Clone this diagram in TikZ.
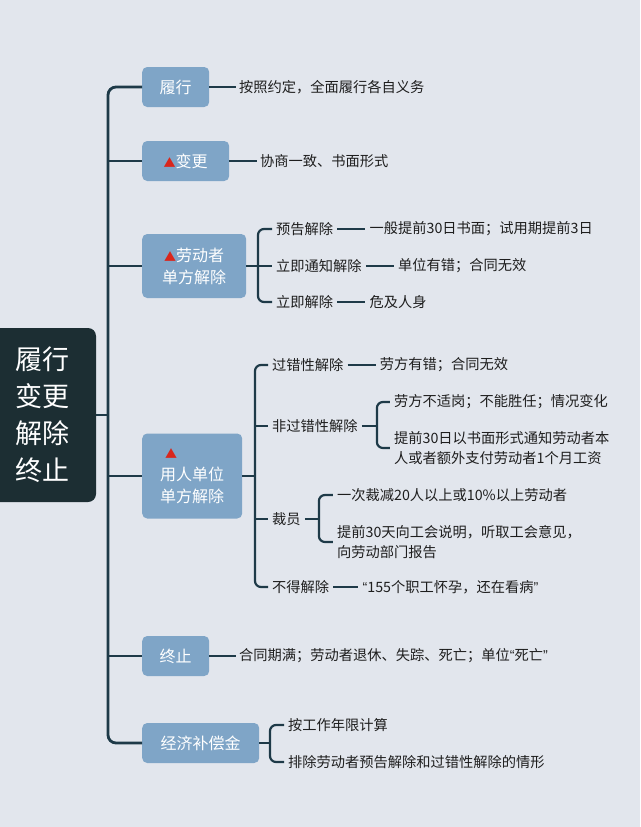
\documentclass[tikz,border=0pt]{standalone}
\usepackage{fontspec}
\setmainfont{Noto Sans CJK SC}
\newfontfamily\quotefont{Liberation Sans}
\usepackage{tikz}
\usetikzlibrary{calc}
\usetikzlibrary{positioning}
\definecolor{bgcol}{HTML}{E2E6ED}
\definecolor{rootcol}{HTML}{1C2E33}
\definecolor{linecol}{HTML}{1E3A48}
\definecolor{boxcol}{HTML}{7FA5C7}
\definecolor{txtcol}{HTML}{1E1E1E}
\definecolor{tricol}{HTML}{D9261C}
\newcommand{\tri}{{\color{tricol}\fontsize{12}{12}\selectfont▲}}
\newcommand{\oq}{{\quotefont “}}
\newcommand{\cq}{{\quotefont ”}}
\newcommand{\fork}[3]{ \draw[link] (#1.west) -| (#2) |- (#3.west);}
\tikzset{
  link/.style={draw=linecol, line width=2.2pt, rounded corners=6pt},
  tie/.style={draw=linecol, line width=1.7pt},
  trunk/.style={draw=linecol, line width=2.8pt, rounded corners=8pt},
  topic/.style={fill=boxcol, text=white, rounded corners=5pt, anchor=west, minimum height=40pt, inner sep=0pt, align=center, font=\fontsize{16}{22}\selectfont},
  leaf/.style={text=txtcol, anchor=west, inner xsep=4pt, inner ysep=2pt, align=left, font=\fontsize{14.25}{19.5}\selectfont}
}

\begin{document}
\begin{tikzpicture}[x=1pt,y=-1pt]
        \fill[bgcol] (0,0) rectangle (640,827);
        \useasboundingbox (0,0) rectangle (640,827);

        % root
        \node[fill=rootcol, text=white, rounded corners=8pt, minimum width=106pt, minimum height=174pt, align=center, font=\fontsize{27}{37}\selectfont] (root) at (43,415) {履行\\变更\\解除\\终止};

        % topics
        \node[topic, minimum width=67pt] (b1) at (142,87) {履行};
        \node[topic, minimum width=87pt] (b2) at (142,161) {\tri 变更};
        \node[topic, minimum width=104pt, minimum height=64pt] (b3) at (142,266) {\tri 劳动者\\单方解除};
        \node[topic, minimum width=100pt, minimum height=85pt, align=left] (b4) at (142,476) {\hspace*{5pt}\tri\\用人单位\\单方解除};
        \node[topic, minimum width=67pt] (b5) at (142,656) {终止};
        \node[topic, minimum width=117pt] (b6) at (142,743) {经济补偿金};

        \coordinate (tr) at (108,415);
        \draw[trunk] (b1.west) -| (tr) |- (b6.west);
        \draw[trunk] (root.east) -- (tr);
        \foreach \b in {b2,b3,b4,b5} \draw[trunk] (tr |- \b.west) -- (\b.west);

        % row 1, 2, 5
        \node[leaf, inner xsep=3pt] (t1) at (236,87) {按照约定，全面履行各自义务};
        \node[leaf, inner xsep=3pt] (t2) at (257,161) {协商一致、书面形式};
        \node[leaf, inner xsep=3pt] (t5) at (236,656) {合同期满；劳动者退休、失踪、死亡；单位\oq 死亡\cq};
        \foreach \n in {1,2,5} \draw[link] (b\n.east) -- (t\n.west);

        % row 3
        \coordinate (j3) at (258,266);
        \node[leaf] (w3a) at (272,229) {预告解除};
        \node[leaf] (w3b) at (272,266) {立即通知解除};
        \node[leaf] (w3c) at (272,302) {立即解除};
        \draw[link] (b3.east) -- (w3b.west);
        \fork{w3a}{j3}{w3c}
        \node[leaf, right=28pt of w3a] (d3a) {一般提前30日书面；试用期提前3日};
        \node[leaf, right=28pt of w3b] (d3b) {单位有错；合同无效};
        \node[leaf, right=28pt of w3c] (d3c) {危及人身};

        % row 4
        \coordinate (j4) at (255,476);
        \node[leaf] (w4a) at (268,365) {过错性解除};
        \node[leaf] (w4b) at (268,426) {非过错性解除};
        \node[leaf] (w4c) at (268,519) {裁员};
        \node[leaf] (w4d) at (268,587) {不得解除};
        \draw[link] (b4.east) -- (j4);
        \fork{w4a}{j4}{w4d}
        \draw[link] (j4 |- w4b.west) -- (w4b.west);
        \draw[link] (j4 |- w4c.west) -- (w4c.west);
        \node[leaf, right=28pt of w4a] (d4a) {劳方有错；合同无效};
        \node[leaf, right=25pt of w4d] (d4d) {\oq 155个职工怀孕，还在看病\cq};
        \foreach \a in {3a,3b,3c,4a,4d} \draw[tie] (w\a.east) -- (d\a.west);

        \coordinate (k4b) at ($(w4b.east)+(15,0)$);
        \node[leaf] (e4a) at ($(k4b)+(13,-24)$) {劳方不适岗；不能胜任；情况变化};
        \node[leaf] (e4b) at ($(k4b)+(13,22)$) {提前30日以书面形式通知劳动者本\\人或者额外支付劳动者1个月工资};
        \draw[tie] (w4b.east) -- (k4b);
        \fork{e4a}{k4b}{e4b}

        \coordinate (k4c) at ($(w4c.east)+(14,0)$);
        \node[leaf] (f4a) at ($(k4c)+(14,-24)$) {一次裁减20人以上或10\%以上劳动者};
        \node[leaf] (f4b) at ($(k4c)+(14,23)$) {提前30天向工会说明，听取工会意见，\\向劳动部门报告};
        \draw[tie] (w4c.east) -- (k4c);
        \fork{f4a}{k4c}{f4b}

        % row 6
        \coordinate (j6) at (270,743);
        \node[leaf] (g6a) at (284,725) {按工作年限计算};
        \node[leaf] (g6b) at (284,762) {排除劳动者预告解除和过错性解除的情形};
        \draw[link] (b6.east) -- (j6);
        \fork{g6a}{j6}{g6b}
\end{tikzpicture}
\end{document}
